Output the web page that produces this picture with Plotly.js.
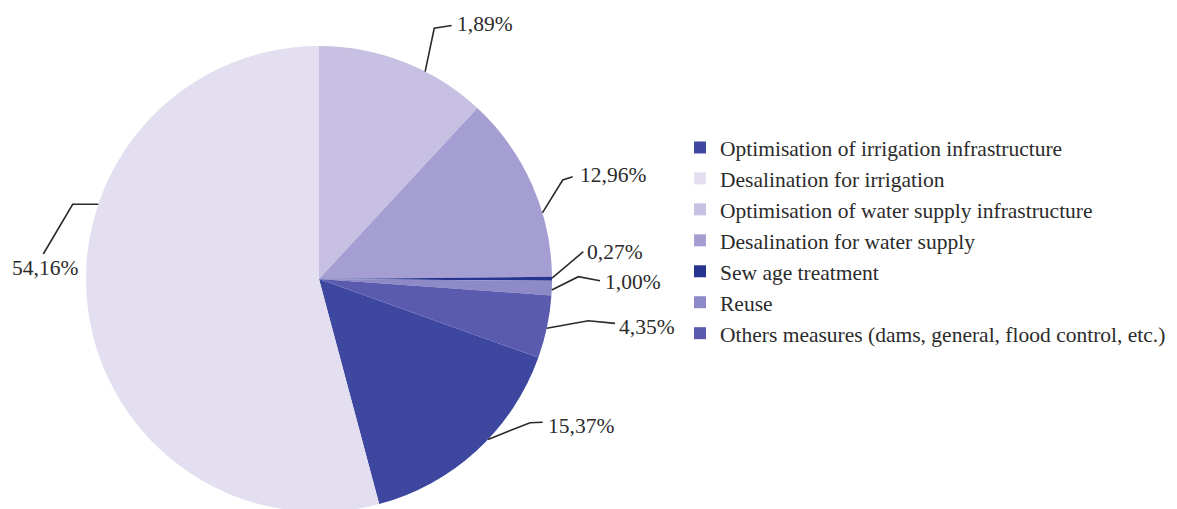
<!DOCTYPE html>
<html>
<head>
<meta charset="utf-8">
<script src="https://cdn.plot.ly/plotly-3.0.1.min.js"></script>
<style>
  html, body { margin: 0; padding: 0; overflow: hidden; background: #ffffff; }
  #chart { width: 1177px; height: 512px; }
</style>
</head>
<body>
<div id="chart"></div>
<script>
// ---- data ----
const categories = [
  "Optimisation of irrigation infrastructure",
  "Desalination for irrigation",
  "Optimisation of water supply infrastructure",
  "Desalination for water supply",
  "Sew age treatment",
  "Reuse",
  "Others measures (dams, general, flood control, etc.)"
];
const shares = [15.37, 54.16, 11.89, 12.96, 0.27, 1.00, 4.35];
const shareLabels = ["15,37%", "54,16%", "1,89%", "12,96%", "0,27%", "1,00%", "4,35%"];
const sliceColors = ["#3e47a0", "#e3dff0", "#c8c0e3", "#a49ed2", "#283590", "#8e8ac8", "#5a5aae"];

// ---- layout geometry (pixels) ----
const W = 1177, H = 512, TOP = 46;
const CX = 319, R = 233;
const CY = TOP + R;
const px = x => x / W;
const py = y => (H - y) / (H - TOP);

// leader lines: start angle on rim (deg clockwise from 12 o'clock), elbow offset, end offset, text placement
const leaders = [
  { a: 133.5, e: [42, -16.7], f: [12.7, -0.4], t: [3.5, 4], anchor: "left" },
  { a: 288.7, e: [-25.6, 0], f: [-29.4, 49.7], t: [1.5, 14], anchor: "center" },
  { a: 27.1,  e: [9.1, -43.3], f: [17.4, -2.8], t: [3, -1], anchor: "left" },
  { a: 73.5,  e: [20.3, -32.8], f: [10, -3.3], t: [5, -1.5], anchor: "left" },
  { a: 89.8,  e: [31.3, -26.5], f: [0, 0], t: [2, 0.5], anchor: "left" },
  { a: 92.7,  e: [26.6, -13.3], f: [21.7, 4], t: [3, 1], anchor: "left" },
  { a: 102.2, e: [41.6, -7.5], f: [26.7, 2.6], t: [1.5, 3.5], anchor: "left" }
];

const lineColor = "#2b2b2b";
const textColor = "#2b2b2b";
const serif = "Liberation Serif";

const shapes = [];
const annotations = [];
leaders.forEach((L, i) => {
  const rad = L.a * Math.PI / 180;
  const x0 = CX + R * Math.sin(rad), y0 = CY - R * Math.cos(rad);
  const x1 = x0 + L.e[0], y1 = y0 + L.e[1];
  const x2 = x1 + L.f[0], y2 = y1 + L.f[1];
  shapes.push({
    type: "path", xref: "paper", yref: "paper",
    path: `M ${px(x0)},${py(y0)} L ${px(x1)},${py(y1)} L ${px(x2)},${py(y2)}`,
    line: { color: lineColor, width: 1.6 }
  });
  annotations.push({
    xref: "paper", yref: "paper",
    x: px(x2 + L.t[0]), y: py(y2 + L.t[1]),
    xanchor: L.anchor, yanchor: "middle",
    text: shareLabels[i], showarrow: false,
    font: { family: serif, size: 21.5, color: textColor }
  });
});

const trace = {
  type: "pie",
  labels: categories,
  values: shares,
  sort: false,
  direction: "clockwise",
  rotation: 109.7,
  textinfo: "none",
  hoverinfo: "label+percent",
  marker: { colors: sliceColors, line: { width: 0 } },
  domain: { x: [(CX - R) / W, (CX + R) / W], y: [0, 1] }
};

const layout = {
  width: W, height: H,
  margin: { l: 0, r: 0, t: TOP, b: 0, pad: 0 },
  paper_bgcolor: "#ffffff",
  font: { family: serif, color: textColor },
  showlegend: true,
  legend: {
    x: 680 / W, xanchor: "left",
    y: py(127), yanchor: "top",
    font: { family: serif, size: 21.5, color: textColor },
    bgcolor: "rgba(0,0,0,0)", borderwidth: 0,
    traceorder: "normal"
  },
  shapes: shapes,
  annotations: annotations
};

Plotly.newPlot("chart", [trace], layout, { displayModeBar: false, staticPlot: true });
</script>
</body>
</html>
